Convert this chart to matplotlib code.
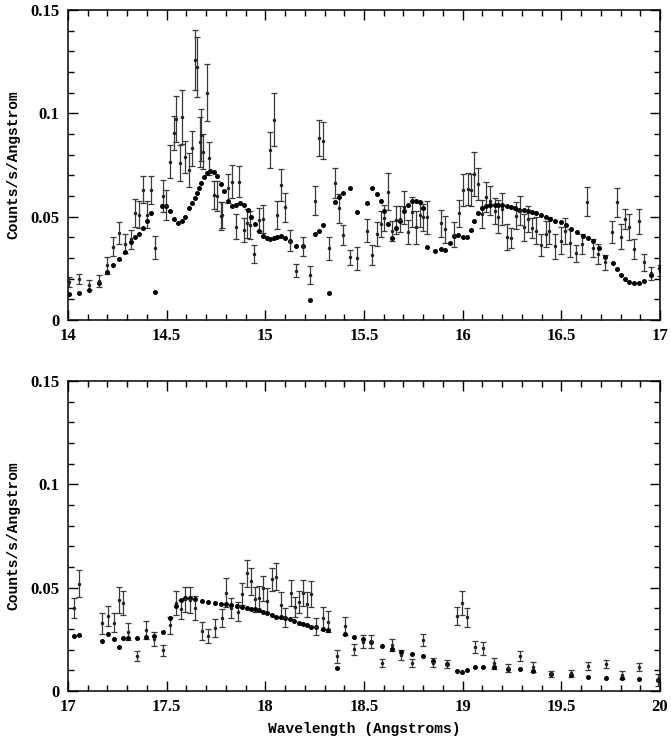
import matplotlib
matplotlib.use("Agg")
import matplotlib.pyplot as plt
from matplotlib.ticker import MultipleLocator, FuncFormatter

# ---- top panel (14-17 A) ----
top_model_x = [14.005, 14.055, 14.105, 14.155, 14.2, 14.23, 14.26, 14.29, 14.32, 14.34,
               14.36, 14.38, 14.40, 14.42, 14.44, 14.476, 14.498, 14.518, 14.535, 14.557,
               14.577, 14.594, 14.613, 14.63, 14.645, 14.655, 14.664, 14.672, 14.687, 14.704,
               14.72, 14.739, 14.756, 14.773, 14.793, 14.813, 14.832, 14.852, 14.872, 14.89,
               14.91, 14.93, 14.95, 14.967, 14.987, 15.007, 15.025, 15.042, 15.059, 15.079,
               15.098, 15.123, 15.156, 15.19, 15.224, 15.254, 15.274, 15.294, 15.321, 15.352,
               15.372, 15.395, 15.429, 15.463, 15.513, 15.542, 15.565, 15.585, 15.602, 15.624,
               15.644, 15.664, 15.685, 15.701, 15.723, 15.743, 15.762, 15.782, 15.799, 15.821,
               15.861, 15.892, 15.912, 15.934, 15.957, 15.977, 16.0, 16.022, 16.042, 16.06,
               16.08, 16.1, 16.12, 16.14, 16.162, 16.18, 16.2, 16.225, 16.247, 16.267,
               16.287, 16.31, 16.33, 16.35, 16.373, 16.397, 16.42, 16.444, 16.47, 16.498,
               16.525, 16.55, 16.58, 16.61, 16.635, 16.66, 16.69, 16.723, 16.76, 16.782,
               16.804, 16.823, 16.845, 16.867, 16.892, 16.917, 16.954, 16.998]
top_model_y = [0.0126, 0.0133, 0.0146, 0.018, 0.023, 0.0267, 0.0297, 0.033, 0.0378, 0.040,
               0.0417, 0.0446, 0.048, 0.052, 0.0136, 0.0552, 0.0552, 0.0527, 0.0487, 0.0468,
               0.048, 0.050, 0.054, 0.0568, 0.0589, 0.0613, 0.0637, 0.0661, 0.0693, 0.0713,
               0.0722, 0.0718, 0.0697, 0.0658, 0.0626, 0.0577, 0.0552, 0.0556, 0.0564, 0.0556,
               0.0532, 0.050, 0.0464, 0.043, 0.0405, 0.0395, 0.0394, 0.0397, 0.040, 0.0406,
               0.0397, 0.0381, 0.0357, 0.0357, 0.0097, 0.0416, 0.0432, 0.046, 0.0130, 0.0573,
               0.0594, 0.0615, 0.0637, 0.0524, 0.0568, 0.0638, 0.061, 0.0574, 0.0526, 0.0465,
               0.0397, 0.0443, 0.048, 0.0526, 0.0558, 0.0574, 0.0577, 0.0569, 0.0542, 0.0352,
               0.0335, 0.0342, 0.0339, 0.0371, 0.0406, 0.0411, 0.040, 0.040, 0.0435, 0.048,
               0.052, 0.054, 0.055, 0.0555, 0.0558, 0.0558, 0.0558, 0.055, 0.0545, 0.054,
               0.0534, 0.053, 0.0526, 0.0523, 0.0518, 0.051, 0.050, 0.0489, 0.048, 0.0473,
               0.046, 0.044, 0.0424, 0.0408, 0.0397, 0.038, 0.0348, 0.0306, 0.0274, 0.0247,
               0.022, 0.0198, 0.0185, 0.0177, 0.0177, 0.0187, 0.0218, 0.0252]

top_data_x = [14.005, 14.055, 14.105, 14.155, 14.20, 14.23, 14.26, 14.29, 14.32, 14.34,
              14.36, 14.38, 14.40, 14.42, 14.44, 14.481, 14.498, 14.518, 14.535, 14.549,
              14.566, 14.579, 14.594, 14.613, 14.63, 14.645, 14.655, 14.667, 14.675, 14.683,
              14.705, 14.717, 14.739, 14.756, 14.773, 14.781, 14.813, 14.832, 14.852, 14.869,
              14.89, 14.907, 14.92, 14.944, 14.967, 14.987, 15.022, 15.042, 15.059, 15.079,
              15.098, 15.123, 15.156, 15.19, 15.224, 15.254, 15.274, 15.294, 15.321, 15.352,
              15.372, 15.395, 15.429, 15.463, 15.513, 15.542, 15.565, 15.585, 15.602, 15.624,
              15.644, 15.664, 15.685, 15.701, 15.723, 15.743, 15.762, 15.782, 15.799, 15.821,
              15.892, 15.912, 15.958, 15.979, 16.0, 16.025, 16.043, 16.06, 16.08, 16.1,
              16.12, 16.14, 16.162, 16.18, 16.2, 16.225, 16.247, 16.27, 16.292, 16.313,
              16.333, 16.35, 16.373, 16.397, 16.42, 16.44, 16.47, 16.498, 16.52, 16.545,
              16.576, 16.606, 16.63, 16.66, 16.687, 16.72, 16.758, 16.782, 16.804, 16.823,
              16.845, 16.867, 16.895, 16.917, 16.954, 16.998]
top_data_y = [0.0185, 0.0198, 0.017, 0.019, 0.0264, 0.0355, 0.042, 0.037, 0.039, 0.052,
              0.051, 0.063, 0.051, 0.063, 0.035, 0.060, 0.0556, 0.0766, 0.0906, 0.0971,
              0.0761, 0.0984, 0.079, 0.0726, 0.083, 0.1258, 0.1225, 0.0863, 0.0895, 0.0814,
              0.110, 0.0782, 0.0605, 0.0601, 0.0503, 0.0508, 0.0637, 0.0669, 0.0452, 0.067,
              0.0435, 0.0468, 0.046, 0.032, 0.0486, 0.049, 0.0824, 0.097, 0.0508, 0.0653,
              0.0545, 0.0384, 0.0239, 0.0356, 0.0219, 0.0577, 0.088, 0.0868, 0.0348, 0.0663,
              0.054, 0.0411, 0.0303, 0.0298, 0.0432, 0.0315, 0.0416, 0.0465, 0.0492, 0.0621,
              0.0432, 0.0484, 0.0489, 0.0545, 0.0424, 0.0521, 0.0448, 0.051, 0.0497, 0.0497,
              0.0468, 0.044, 0.0413, 0.0516, 0.063, 0.0634, 0.063, 0.0706, 0.0658, 0.0513,
              0.0594, 0.0577, 0.0529, 0.050, 0.0537, 0.040, 0.0397, 0.0505, 0.0529, 0.0448,
              0.0489, 0.0445, 0.0432, 0.0363, 0.0416, 0.0432, 0.0356, 0.0384, 0.0432, 0.0373,
              0.0323, 0.0368, 0.0573, 0.0348, 0.0319, 0.0279, 0.0427, 0.0569, 0.0403, 0.0489,
              0.0448, 0.0344, 0.0477, 0.0279, 0.0226, 0.0239]
top_data_err = [0.0024, 0.0026, 0.0024, 0.0028, 0.0039, 0.0046, 0.0053, 0.0044, 0.0046, 0.0068,
                0.0066, 0.0066, 0.0065, 0.0068, 0.0057, 0.0077, 0.0073, 0.0081, 0.0082, 0.0111,
                0.0087, 0.0131, 0.0078, 0.0081, 0.0085, 0.0147, 0.0145, 0.0121, 0.0127, 0.0085,
                0.0139, 0.0081, 0.0066, 0.0073, 0.0069, 0.0063, 0.0071, 0.0079, 0.0062, 0.0074,
                0.0057, 0.0070, 0.0067, 0.0045, 0.0057, 0.0067, 0.0086, 0.013, 0.0068, 0.0076,
                0.007, 0.005, 0.0032, 0.0047, 0.0043, 0.0071, 0.0088, 0.0088, 0.0056, 0.0073,
                0.007, 0.005, 0.0038, 0.0054, 0.0055, 0.005, 0.006, 0.0062, 0.0063, 0.0089,
                0.0048, 0.0069, 0.0063, 0.0079, 0.0058, 0.0073, 0.008, 0.0059, 0.0065, 0.008,
                0.0066, 0.0065, 0.006, 0.0066, 0.0077, 0.0077, 0.0077, 0.0105, 0.0077, 0.0069,
                0.0073, 0.0071, 0.0063, 0.008, 0.0078, 0.0063, 0.0048, 0.0065, 0.007, 0.0064,
                0.0065, 0.0048, 0.0065, 0.0051, 0.0062, 0.0065, 0.0062, 0.0066, 0.0063, 0.0069,
                0.0042, 0.005, 0.0069, 0.0044, 0.0047, 0.0036, 0.0052, 0.007, 0.006, 0.005,
                0.0063, 0.0048, 0.0062, 0.004, 0.0031, 0.0028]

# ---- bottom panel (17-20 A) ----
bot_model_x = [17.029, 17.056, 17.173, 17.205, 17.232, 17.258, 17.281, 17.306, 17.35, 17.396,
               17.434, 17.48, 17.518, 17.547, 17.572, 17.594, 17.618, 17.643, 17.677, 17.71,
               17.746, 17.774, 17.803, 17.828, 17.859, 17.884, 17.906, 17.926, 17.946, 17.968,
               17.988, 18.01, 18.032, 18.056, 18.08, 18.1, 18.126, 18.147, 18.169, 18.19,
               18.212, 18.233, 18.258, 18.29, 18.32, 18.364, 18.406, 18.447, 18.494, 18.536,
               18.589, 18.642, 18.688, 18.745, 18.798, 18.852, 18.919, 18.973, 18.997, 19.024,
               19.063, 19.105, 19.16, 19.23, 19.29, 19.354, 19.447, 19.55, 19.634, 19.725,
               19.807, 19.893, 19.99]
bot_model_y = [0.0268, 0.0269, 0.0242, 0.0276, 0.025, 0.0215, 0.0258, 0.0255, 0.0258, 0.0263,
               0.0266, 0.0287, 0.0352, 0.0411, 0.044, 0.0452, 0.0452, 0.0445, 0.0437, 0.0432,
               0.0427, 0.0421, 0.0419, 0.0416, 0.0411, 0.0405, 0.040, 0.0397, 0.0395, 0.0392,
               0.0384, 0.0376, 0.0368, 0.036, 0.0356, 0.0352, 0.0347, 0.034, 0.0331, 0.0324,
               0.0319, 0.0311, 0.0308, 0.0302, 0.0295, 0.0113, 0.0274, 0.0263, 0.0252, 0.0235,
               0.0219, 0.0203, 0.019, 0.0179, 0.0169, 0.0147, 0.0129, 0.0098, 0.0094, 0.0102,
               0.0115, 0.0118, 0.0118, 0.0105, 0.0105, 0.0097, 0.0082, 0.0077, 0.0066, 0.0065,
               0.0061, 0.0056, 0.0053]

bot_data_x = [17.029, 17.056, 17.173, 17.205, 17.232, 17.261, 17.281, 17.306, 17.35, 17.396,
              17.434, 17.48, 17.518, 17.547, 17.572, 17.594, 17.618, 17.643, 17.677, 17.71,
              17.746, 17.778, 17.803, 17.828, 17.862, 17.884, 17.906, 17.926, 17.95, 17.968,
              17.988, 18.01, 18.032, 18.056, 18.08, 18.1, 18.13, 18.152, 18.172, 18.19,
              18.212, 18.233, 18.258, 18.29, 18.32, 18.364, 18.406, 18.447, 18.494, 18.536,
              18.589, 18.642, 18.688, 18.745, 18.798, 18.852, 18.919, 18.973, 18.997, 19.024,
              19.062, 19.105, 19.16, 19.23, 19.29, 19.354, 19.447, 19.55, 19.634, 19.725,
              19.807, 19.893, 19.99]
bot_data_y = [0.040, 0.052, 0.0327, 0.0363, 0.033, 0.044, 0.0427, 0.0287, 0.0171, 0.0295,
              0.025, 0.0198, 0.0318, 0.0424, 0.0395, 0.0444, 0.044, 0.040, 0.029, 0.0266,
              0.0306, 0.0352, 0.0476, 0.040, 0.0384, 0.047, 0.057, 0.053, 0.0444, 0.0448,
              0.0497, 0.0437, 0.054, 0.0553, 0.0416, 0.0356, 0.0473, 0.0405, 0.0432, 0.0473,
              0.0419, 0.0468, 0.0311, 0.0352, 0.0335, 0.0169, 0.0315, 0.0202, 0.0239, 0.0239,
              0.0134, 0.0224, 0.0174, 0.0137, 0.0247, 0.0137, 0.013, 0.0363, 0.0427, 0.0356,
              0.0215, 0.0206, 0.0134, 0.011, 0.0169, 0.0115, 0.0082, 0.0085, 0.0121, 0.013,
              0.0077, 0.0115, 0.0053]
bot_data_err = [0.0048, 0.0066, 0.005, 0.0048, 0.0046, 0.0062, 0.0058, 0.0042, 0.0024, 0.0044,
                0.0034, 0.0027, 0.0042, 0.0058, 0.0045, 0.0061, 0.0061, 0.0058, 0.0044, 0.0034,
                0.0044, 0.0044, 0.007, 0.0048, 0.0047, 0.0055, 0.0066, 0.0065, 0.0061, 0.006,
                0.0061, 0.0061, 0.0056, 0.0066, 0.0063, 0.0046, 0.0063, 0.0048, 0.0054, 0.0063,
                0.0059, 0.0062, 0.004, 0.0055, 0.005, 0.0031, 0.0044, 0.0027, 0.0031, 0.0031,
                0.002, 0.0029, 0.0023, 0.002, 0.0031, 0.0022, 0.0019, 0.0044, 0.0059, 0.0044,
                0.0029, 0.003, 0.0028, 0.0019, 0.0023, 0.0024, 0.0014, 0.0016, 0.0021, 0.0019,
                0.002, 0.0019, 0.0027]

label_font = {'family': 'Liberation Mono', 'weight': 'bold', 'size': 10.5}

fig = plt.figure(figsize=(6.71, 7.42), dpi=100)
ax1 = fig.add_axes([0.1013, 0.5687, 0.8823, 0.4178])
ax2 = fig.add_axes([0.1013, 0.0687, 0.8823, 0.4178])

def fmt(v, pos):
    return '%g' % round(v, 3)

panels = [
    (ax1, top_model_x, top_model_y, top_data_x, top_data_y, top_data_err, 14, 17),
    (ax2, bot_model_x, bot_model_y, bot_data_x, bot_data_y, bot_data_err, 17, 20),
]
for ax, mx, my, dx, dy, de, x0, x1 in panels:
    ax.errorbar(dx, dy, yerr=de, fmt='o', ms=1.5, color='#222222', ecolor='#3a3a3a',
                elinewidth=0.9, capsize=2.2, capthick=0.9)
    ax.plot(mx, my, 'o', ms=3.6, color='black', mew=0)
    ax.set_xlim(x0, x1)
    ax.set_ylim(0, 0.15)
    ax.xaxis.set_major_locator(MultipleLocator(0.5))
    ax.xaxis.set_minor_locator(MultipleLocator(0.1))
    ax.yaxis.set_major_locator(MultipleLocator(0.05))
    ax.yaxis.set_minor_locator(MultipleLocator(0.01))
    ax.xaxis.set_major_formatter(FuncFormatter(fmt))
    ax.yaxis.set_major_formatter(FuncFormatter(fmt))
    ax.tick_params(which='both', direction='in', top=True, right=True, width=1.0, pad=6)
    ax.tick_params(which='major', length=7)
    ax.tick_params(which='minor', length=4)
    for lab in ax.get_xticklabels() + ax.get_yticklabels():
        lab.set_fontfamily('Liberation Serif')
        lab.set_fontweight('bold')
        lab.set_fontsize(12)
    for sp in ax.spines.values():
        sp.set_linewidth(1.1)
    ax.set_ylabel('Counts/s/Angstrom', fontdict=label_font, labelpad=7)

ax2.set_xlabel('Wavelength (Angstroms)', fontdict=label_font, labelpad=5)

fig.savefig('out.png', dpi=100)
